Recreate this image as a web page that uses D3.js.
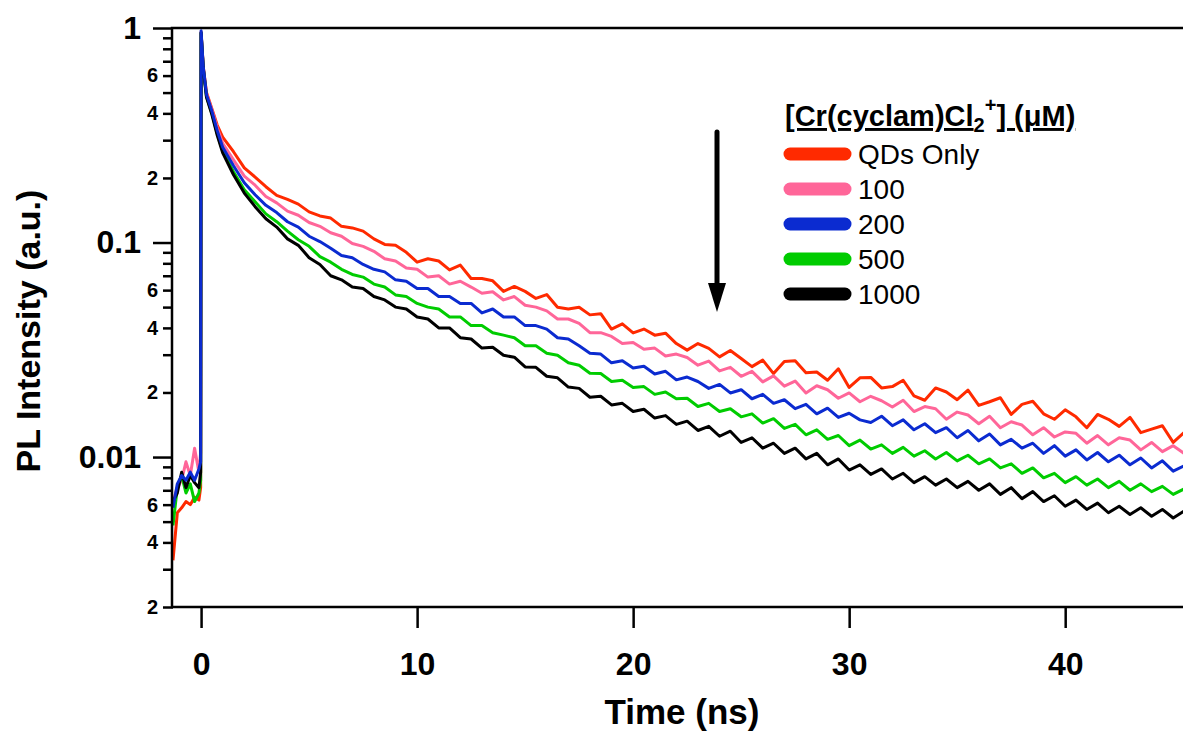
<!DOCTYPE html>
<meta charset="utf-8">
<script src="https://d3js.org/d3.v7.min.js"></script>
<style>
  body { margin: 0; background: #fff; }
  text { font-family: "Liberation Sans", Arial, sans-serif; }
</style>
<div id="vis"></div>
<script>

// time axis (ns), shared by all decays
var times = [-1.3, -1.1, -0.9, -0.7, -0.5, -0.3, -0.1, -0.02,
  0, 0.1, 0.25, 0.5, 0.75,
  1, 1.5, 2, 2.5, 3, 3.5, 4, 4.5, 5, 5.5, 6, 6.5, 7, 7.5, 8, 8.5, 9, 9.5,
  10, 10.5, 11, 11.5, 12, 12.5, 13, 13.5, 14, 14.5, 15, 15.5, 16, 16.5, 17, 17.5, 18, 18.5, 19, 19.5,
  20, 20.5, 21, 21.5, 22, 22.5, 23, 23.5, 24, 24.5, 25, 25.5, 26, 26.5, 27, 27.5, 28, 28.5, 29, 29.5,
  30, 30.5, 31, 31.5, 32, 32.5, 33, 33.5, 34, 34.5, 35, 35.5, 36, 36.5, 37, 37.5, 38, 38.5, 39, 39.5,
  40, 40.5, 41, 41.5, 42, 42.5, 43, 43.5, 44, 44.5, 45, 45.5]

var qdsOnly = [0.0033, 0.0055, 0.0058, 0.0062, 0.006, 0.0065, 0.0063, 0.0072,
  0.95, 0.66, 0.5, 0.42, 0.352,
  0.31, 0.265, 0.223, 0.202, 0.182, 0.166, 0.159, 0.151, 0.139, 0.133, 0.13, 0.119, 0.117, 0.113, 0.104, 0.098, 0.097, 0.09,
  0.081, 0.084, 0.082, 0.0745, 0.0785, 0.068, 0.068, 0.0663, 0.0592, 0.0624, 0.0592, 0.0549, 0.0572, 0.0499, 0.049, 0.0499, 0.046, 0.0466, 0.0395, 0.0418,
  0.0379, 0.0395, 0.037, 0.0378, 0.0338, 0.0315, 0.0338, 0.0321, 0.0293, 0.0314, 0.0288, 0.0264, 0.0283, 0.0245, 0.0279, 0.0281, 0.0247, 0.0249, 0.0228, 0.0258,
  0.0211, 0.0234, 0.0235, 0.021, 0.0213, 0.0228, 0.0193, 0.0184, 0.021, 0.0201, 0.0185, 0.0205, 0.0174, 0.0181, 0.0189, 0.0158, 0.0176, 0.0182, 0.0159, 0.015,
  0.0166, 0.0154, 0.0137, 0.0158, 0.015, 0.0139, 0.0153, 0.013, 0.0135, 0.014, 0.0117, 0.013]

var cr100 = [0.0062, 0.0072, 0.0078, 0.0095, 0.0082, 0.011, 0.0085, 0.0105,
  0.96, 0.66, 0.495, 0.415, 0.342,
  0.29, 0.243, 0.204, 0.185, 0.164, 0.153, 0.14, 0.134, 0.124, 0.119, 0.111, 0.107, 0.099, 0.096, 0.091, 0.084, 0.082, 0.076,
  0.075, 0.069, 0.07, 0.064, 0.066, 0.062, 0.058, 0.059, 0.054, 0.056, 0.051, 0.05, 0.048, 0.044, 0.044, 0.042, 0.038, 0.038, 0.0365, 0.0338,
  0.0342, 0.0318, 0.0322, 0.0296, 0.0302, 0.0291, 0.0268, 0.028, 0.0252, 0.0262, 0.0238, 0.0251, 0.0224, 0.0239, 0.0214, 0.0226, 0.0199, 0.0215, 0.0206, 0.0188,
  0.0199, 0.0181, 0.0192, 0.0183, 0.0171, 0.0184, 0.0163, 0.0172, 0.0168, 0.015, 0.0162, 0.0157, 0.0143, 0.0155, 0.0137, 0.0146, 0.0141, 0.0127, 0.0137, 0.0124,
  0.0131, 0.0129, 0.0116, 0.0126, 0.0114, 0.0123, 0.012, 0.0108, 0.0117, 0.0106, 0.0113, 0.0104]

var cr200 = [0.0058, 0.0075, 0.0082, 0.0078, 0.0085, 0.0078, 0.0088, 0.0095,
  0.97, 0.66, 0.49, 0.41, 0.332,
  0.278, 0.228, 0.19, 0.167, 0.149, 0.138, 0.125, 0.118, 0.107, 0.101, 0.094, 0.087, 0.085, 0.079, 0.075, 0.073, 0.067, 0.066,
  0.061, 0.061, 0.056, 0.056, 0.052, 0.052, 0.047, 0.049, 0.045, 0.045, 0.041, 0.041, 0.0395, 0.036, 0.0355, 0.033, 0.0305, 0.0302, 0.0275, 0.0281,
  0.026, 0.0265, 0.0244, 0.0251, 0.0229, 0.0236, 0.0225, 0.0209, 0.0218, 0.0199, 0.0206, 0.0187, 0.0196, 0.0178, 0.0185, 0.0168, 0.0176, 0.0159, 0.0169, 0.0153,
  0.016, 0.0149, 0.0145, 0.0155, 0.014, 0.0149, 0.0134, 0.0143, 0.013, 0.0137, 0.0123, 0.0133, 0.0119, 0.0128, 0.0114, 0.0121, 0.011, 0.0116, 0.0104, 0.0113,
  0.0101, 0.0108, 0.0097, 0.0105, 0.0095, 0.0102, 0.0092, 0.0099, 0.0089, 0.0096, 0.0086, 0.0091]

var cr500 = [0.0048, 0.0072, 0.0082, 0.0068, 0.0075, 0.0062, 0.0068, 0.0078,
  0.95, 0.65, 0.48, 0.4, 0.322,
  0.267, 0.214, 0.176, 0.155, 0.136, 0.125, 0.113, 0.103, 0.096, 0.086, 0.081, 0.075, 0.071, 0.069, 0.064, 0.062, 0.057, 0.056,
  0.052, 0.05, 0.049, 0.045, 0.045, 0.041, 0.041, 0.038, 0.037, 0.036, 0.033, 0.033, 0.0305, 0.0298, 0.0275, 0.0268, 0.0246, 0.0245, 0.0225, 0.0228,
  0.0211, 0.0213, 0.0196, 0.0201, 0.0187, 0.0188, 0.0172, 0.0178, 0.0163, 0.0168, 0.0154, 0.0159, 0.0144, 0.0151, 0.0136, 0.0142, 0.0127, 0.0134, 0.0121, 0.0126,
  0.0113, 0.012, 0.0109, 0.0114, 0.0104, 0.0111, 0.0101, 0.0107, 0.0098, 0.0105, 0.0096, 0.0102, 0.0093, 0.0098, 0.0089, 0.0093, 0.0084, 0.0089, 0.008, 0.0084,
  0.0076, 0.0081, 0.0074, 0.0079, 0.0072, 0.0077, 0.007, 0.0075, 0.0069, 0.0073, 0.0067, 0.0071]

var cr1000 = [0.0062, 0.0068, 0.0085, 0.0072, 0.0082, 0.0076, 0.0072, 0.0085,
  0.95, 0.65, 0.475, 0.395, 0.315,
  0.262, 0.207, 0.17, 0.147, 0.129, 0.118, 0.104, 0.097, 0.085, 0.079, 0.07, 0.067, 0.062, 0.061, 0.056, 0.054, 0.05, 0.049,
  0.045, 0.044, 0.04, 0.04, 0.036, 0.0355, 0.0322, 0.0325, 0.0298, 0.0292, 0.0263, 0.0262, 0.0238, 0.0234, 0.0212, 0.0209, 0.019, 0.0192, 0.0175, 0.0178,
  0.0163, 0.0167, 0.0152, 0.0156, 0.0142, 0.0147, 0.0133, 0.0139, 0.0125, 0.0132, 0.0117, 0.0123, 0.011, 0.0116, 0.0104, 0.011, 0.0098, 0.0104, 0.0092, 0.0098,
  0.0087, 0.0092, 0.0083, 0.0088, 0.0079, 0.0084, 0.0076, 0.0081, 0.0074, 0.0079, 0.0072, 0.0077, 0.007, 0.0075, 0.0067, 0.0072, 0.0064, 0.0069, 0.0062, 0.0066,
  0.0059, 0.0063, 0.0057, 0.0061, 0.0055, 0.0059, 0.0054, 0.0058, 0.0053, 0.0057, 0.0052, 0.0056]

var seriesNames = ["QDs Only", "100", "200", "500", "1000"]
var seriesValues = [qdsOnly, cr100, cr200, cr500, cr1000]
var xTicks = [0, 10, 20, 30, 40]
var yMajor = [0.01, 0.1, 1]
var yMinor = [0.002, 0.003, 0.004, 0.005, 0.006, 0.007, 0.008, 0.009,
  0.02, 0.03, 0.04, 0.05, 0.06, 0.07, 0.08, 0.09,
  0.2, 0.3, 0.4, 0.5, 0.6, 0.7, 0.8, 0.9]

var colors = ["#ff2a00", "#ff6699", "#0b2bd0", "#00cc00", "#000000"]
var drawOrder = [0, 1, 3, 4, 2]

var width = 1183,
    height = 737,
    plotL = 173, plotR = 1183, plotT = 28, plotB = 607

var svg = d3.select("#vis")
  .append("svg")
    .attr("width", width)
    .attr("height", height)

var x = d3.scaleLinear().domain([-1.3, 45.5]).range([plotL, 1184])
var y = d3.scaleLog().domain([0.002, 1]).range([plotB, plotT])

svg.append("clipPath").attr("id", "plot")
  .append("rect")
    .attr("x", plotL).attr("y", plotT - 2)
    .attr("width", plotR - plotL).attr("height", plotB - plotT + 2)

var line = d3.line()
  .x(function(d, i) { return x(times[i]) })
  .y(function(d) { return y(d) })

svg.append("g").attr("clip-path", "url(#plot)")
  .selectAll("path")
  .data(drawOrder)
  .enter()
  .append("path")
    .attr("d", function(k) { return line(seriesValues[k]) })
    .attr("fill", "none")
    .attr("stroke", function(k) { return colors[k] })
    .attr("stroke-width", 3)
    .attr("stroke-linejoin", "round")

// x axis
var xAxis = svg.append("g")
  .attr("transform", "translate(0," + plotB + ")")
  .call(d3.axisBottom(x).tickValues(xTicks).tickSize(21).tickSizeOuter(0).tickPadding(24).tickFormat(d3.format("d")))
xAxis.select(".domain").remove()
xAxis.selectAll("line").attr("stroke-width", 2.5)
xAxis.selectAll("text").attr("font-size", 32).attr("font-weight", "bold").attr("fill", "#000")
  .style("font-family", "'Liberation Sans', Arial, sans-serif")

// y axis, minor ticks with 2/4/6 labels
var yMinorAxis = svg.append("g")
  .attr("transform", "translate(" + plotL + ",0)")
  .call(d3.axisLeft(y).tickValues(yMinor).tickSize(10).tickSizeOuter(0).tickPadding(5)
    .tickFormat(function(v) {
      var m = Math.round(v / Math.pow(10, Math.floor(Math.log10(v) + 1e-9)))
      return (m == 2 || m == 4 || m == 6) ? m : ""
    }))
yMinorAxis.select(".domain").remove()
yMinorAxis.selectAll("line").attr("stroke-width", 2.5)
yMinorAxis.selectAll("text").attr("font-size", 20).attr("font-weight", "bold").attr("fill", "#000")
  .style("font-family", "'Liberation Sans', Arial, sans-serif")

var yMajorAxis = svg.append("g")
  .attr("transform", "translate(" + plotL + ",0)")
  .call(d3.axisLeft(y).tickValues(yMajor).tickSize(20).tickSizeOuter(0).tickPadding(12)
    .tickFormat(function(v) { return String(v) }))
yMajorAxis.select(".domain").remove()
yMajorAxis.selectAll("line").attr("stroke-width", 2.5)
yMajorAxis.selectAll("text").attr("font-size", 32).attr("font-weight", "bold").attr("fill", "#000")
  .style("font-family", "'Liberation Sans', Arial, sans-serif")

// frame
svg.append("path")
  .attr("d", "M" + plotR + "," + plotT + "H" + (plotL - 1) + "V" + plotB + "H" + plotR)
  .attr("fill", "none")
  .attr("stroke", "#000")
  .attr("stroke-width", 2.5)

// axis titles
svg.append("text")
  .attr("x", 682).attr("y", 724)
  .attr("text-anchor", "middle")
  .attr("font-size", 35).attr("font-weight", "bold")
  .text("Time (ns)")

svg.append("text")
  .attr("transform", "translate(40,331) rotate(-90)")
  .attr("text-anchor", "middle")
  .attr("font-size", 34).attr("font-weight", "bold")
  .text("PL Intensity (a.u.)")

// arrow
svg.append("line")
  .attr("x1", 717).attr("y1", 132).attr("x2", 717).attr("y2", 290)
  .attr("stroke", "#000").attr("stroke-width", 5).attr("stroke-linecap", "round")
svg.append("path")
  .attr("d", "M708,283L726,283L717,312Z")
  .attr("fill", "#000")

// legend
var title = svg.append("text")
  .attr("x", 785).attr("y", 126)
  .attr("font-size", 29).attr("font-weight", "bold")
title.append("tspan").attr("text-decoration", "underline").text("[Cr(cyclam)Cl")
title.append("tspan").attr("dy", 6).attr("font-size", 20).text("2")
title.append("tspan").attr("dy", -20).attr("font-size", 20).text("+")
title.append("tspan").attr("dy", 14).attr("text-decoration", "underline").text("] (μM)")

var legend = svg.selectAll(".legend")
  .data(seriesNames)
  .enter()
  .append("g")
    .attr("class", "legend")
    .attr("transform", function(d, i) { return "translate(0," + (154 + i * 35) + ")" })

legend.append("line")
  .attr("x1", 790).attr("x2", 845)
  .attr("stroke", function(d, i) { return colors[i] })
  .attr("stroke-width", 13)
  .attr("stroke-linecap", "round")

legend.append("text")
  .attr("x", 858).attr("y", 10)
  .attr("font-size", 28)
  .text(function(d) { return d })

</script>
